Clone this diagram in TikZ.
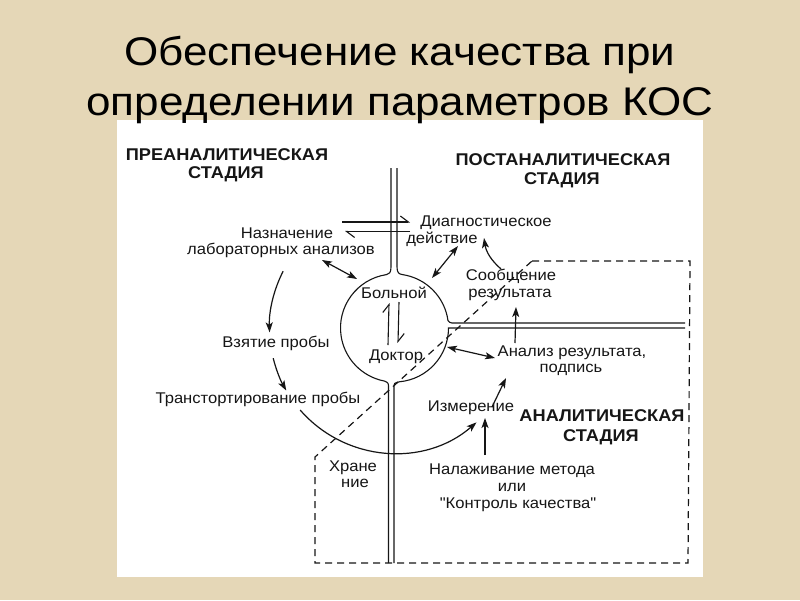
\documentclass[tikz,border=0pt]{standalone}
\usepackage{fontspec}
\setmainfont{Liberation Sans}
\newfontfamily\titlef[FakeStretch=1.1]{Liberation Sans}
\newfontfamily\lblf[FakeStretch=1.07]{Liberation Sans}
\usetikzlibrary{arrows.meta}
\definecolor{parch}{RGB}{229,215,183}
\definecolor{ink}{RGB}{22,22,22}
\begin{document}
\begin{tikzpicture}[x=1pt,y=-1pt,
  lbl/.style={font=\lblf\fontsize{15.5}{17}\selectfont, text=ink, inner sep=0pt, anchor=base},
  hdr/.style={font=\lblf\bfseries\fontsize{17}{20}\selectfont, text=ink, inner sep=0pt, anchor=base},
  ttl/.style={font=\titlef\fontsize{40}{44}\selectfont, text=black, inner sep=0pt, anchor=base},
  dl/.style={draw=ink, line width=1.1pt},
  arr/.style={draw=ink, line width=1.2pt, -{Stealth[length=10pt,width=7pt,inset=2.5pt]}},
  darr/.style={draw=ink, line width=1.2pt, {Stealth[length=10pt,width=7pt,inset=2.5pt]}-{Stealth[length=10pt,width=7pt,inset=2.5pt]}},
  hp/.style={draw=ink, line width=1.1pt, -{Straight Barb[harpoon,length=8pt,width=12pt]}},
  dsh/.style={draw=ink, line width=1.2pt, dash pattern=on 7pt off 5pt}]
\useasboundingbox (0,0) rectangle (800,600);
\fill[parch] (0,0) rectangle (800,600);
\fill[white] (117,120) rectangle (703,577);

% title
\node[ttl] (t1) at (400,65) {Обеспечение качества при};
\node[ttl] (t2) at (400,115) {определении параметров КОС};

% stage headers
\node[hdr] (pre1) at (227,160) {ПРЕАНАЛИТИЧЕСКАЯ};
\node[hdr] (pre2) at (226,178) {СТАДИЯ};
\node[hdr] (post1) at (563,165) {ПОСТАНАЛИТИЧЕСКАЯ};
\node[hdr] (post2) at (562,184) {СТАДИЯ};
\node[hdr] (an1) at (602,421) {АНАЛИТИЧЕСКАЯ};
\node[hdr] (an2) at (601,441) {СТАДИЯ};

% circle centre
\coordinate (C) at (394.5,328);

% double lines and circle
\draw[dl] (391,168) -- (391,267) .. controls (391,273) and (389,274) .. ([shift={(-98.5:54)}]C)
  arc[start angle=-98.5,end angle=-259.3,radius=54]
  .. controls (388.5,383) .. (388.5,388) -- (388.5,563);
\draw[dl] (397,168) -- (397,267) .. controls (397,273) and (399,274) .. ([shift={(-81.5:54)}]C)
  arc[start angle=-81.5,end angle=-8,radius=54]
  .. controls (449,322) and (450,323) .. (452,323) -- (685,323);
\draw[dl] (685,328) -- (448.5,328)
  arc[start angle=0,end angle=84.7,radius=54]
  .. controls (394,383) .. (394,388) -- (394,563);

% dashed analytic stage boundary
\draw[dsh] (532,261) -- (690,261) -- (688,563) -- (315,563) -- (315,457) -- cycle;

% labels
\node[lbl] (nazn) at (287,238) {Назначение};
\node[lbl] (lab) at (281,254) {лабораторных анализов};
\node[lbl] (diag) at (486,226) {Диагностическое};
\node[lbl] (deist) at (442,243) {действие};
\node[lbl] (soob) at (511,280) {Сообщение};
\node[lbl] (rez) at (510,297) {результата};
\node[lbl] (bol) at (394,298) {Больной};
\node[lbl] (dok) at (396,360) {Доктор};
\node[lbl] (vzyat) at (276,347) {Взятие пробы};
\node[lbl] (trans) at (258,403) {Транстортирование пробы};
\node[lbl] (anal) at (572,356) {Анализ результата,};
\node[lbl] (podp) at (571,372) {подпись};
\node[lbl] (izm) at (471,411) {Измерение};
\node[lbl] (nal) at (512,474) {Налаживание метода};
\node[lbl] (ili) at (512,491) {или};
\node[lbl] (kk) at (518,508) {"Контроль качества"};
\node[lbl] (hr1) at (353,471) {Хране};
\node[lbl] (hr2) at (355,487) {ние};

% harpoon arrows across the vertical line
\coordinate (hA1) at (342,222); \coordinate (hA2) at (410,222);
\coordinate (hB1) at (410,231.5); \coordinate (hB2) at (345,231.5);
\draw[hp] (hA1) -- (hA2);
\draw[hp] (hB1) -- (hB2);

% harpoons inside the circle
\coordinate (up1) at (388,345); \coordinate (up2) at (389,303);
\coordinate (dn1) at (399,302); \coordinate (dn2) at (398,343);
\draw[hp] (up1) -- (up2);
\draw[hp] (dn1) -- (dn2);

% straight arrows
\coordinate (a1s) at (322,260); \coordinate (a1e) at (357,279);
\draw[darr] (a1s) -- (a1e);
\coordinate (a2s) at (432,278); \coordinate (a2e) at (458,246);
\draw[darr] (a2s) -- (a2e);
\coordinate (a3s) at (501,269); \coordinate (a3e) at (484,238);
\draw[arr] (a3s) to[bend left=20] (a3e);
\coordinate (a7s) at (492,407); \coordinate (a7e) at (506,378);
\draw[arr] (a7s) -- (a7e);
\coordinate (a8s) at (447,347); \coordinate (a8e) at (495,358);
\draw[darr] (a8s) -- (a8e);
\coordinate (a9s) at (515,343); \coordinate (a9e) at (516,307);
\draw[arr] (a9s) -- (a9e);
\coordinate (a10s) at (485,455); \coordinate (a10e) at (485,418);
\draw[arr] (a10s) -- (a10e);

% arcs around the circle
\coordinate (b4) at ([shift={(207:125)}]C);
\coordinate (b5) at ([shift={(166:125)}]C);
\coordinate (b6) at ([shift={(139:125)}]C);
\draw[arr] (b4) arc[start angle=207,end angle=178,radius=125];
\draw[arr] (b5) arc[start angle=166,end angle=150,radius=125];
\draw[arr] (b6) arc[start angle=139,end angle=49,radius=125];
\end{tikzpicture}
\end{document}
